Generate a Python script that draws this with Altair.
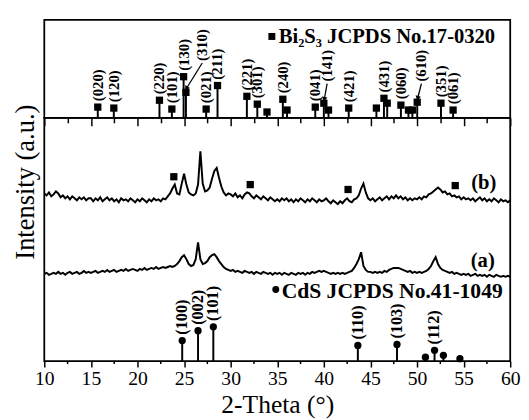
import math
import altair as alt
import pandas as pd

FONT = "Liberation Serif"

# ---------------- data ----------------
# 2-theta sampling grid for the measured patterns (10..60 deg, 0.25 deg step)
two_theta = [round(10 + 0.25 * i, 2) for i in range(201)]

# sample (b): Bi2S3/CdS
curve_b = (
    [171, 169, 172, 168, 170, 173, 171, 167, 169, 166, 168, 165, 168, 166, 164, 167, 165, 167, 164, 166]
    + [166, 163, 166, 164, 167, 163, 165, 167, 164, 166, 163, 165, 162, 166, 164, 165, 163, 166, 164, 162]
    + [165, 163, 166, 164, 162, 165, 163, 166, 164, 165, 163, 166, 165, 168, 171, 176, 180, 171, 170, 181]
    + [191, 180, 172, 170, 169, 171, 180, 214, 181, 173, 174, 177, 186, 194, 197, 187, 178, 172, 169, 171]
    + [170, 168, 171, 167, 169, 166, 170, 172, 171, 168, 166, 169, 167, 165, 168, 166, 164, 167, 165, 163]
    + [165, 163, 166, 164, 166, 163, 165, 162, 165, 163, 166, 164, 162, 165, 163, 166, 164, 162, 165, 163]
    + [164, 166, 163, 161, 164, 162, 160, 163, 161, 164, 166, 163, 162, 165, 166, 169, 176, 181, 172, 166]
    + [164, 166, 163, 165, 167, 164, 166, 168, 165, 168, 166, 169, 166, 168, 165, 167, 164, 166, 164, 166]
    + [165, 167, 165, 168, 167, 170, 171, 173, 175, 177, 175, 172, 173, 170, 171, 168, 169, 167, 168, 165]
    + [167, 165, 166, 164, 166, 163, 165, 167, 164, 166, 163, 165, 163, 166, 164, 162, 165, 163, 164, 162, 164]
)

# sample (a): CdS
curve_a = (
    [89, 90, 88, 89, 90, 89, 91, 89, 90, 88, 90, 91, 89, 90, 91, 89, 90, 92, 90, 91]
    + [90, 91, 92, 90, 91, 92, 91, 93, 91, 92, 93, 91, 92, 93, 92, 94, 92, 93, 94, 93]
    + [92, 94, 93, 95, 93, 94, 95, 94, 96, 94, 95, 96, 95, 96, 97, 96, 97, 99, 102, 106]
    + [108, 104, 99, 97, 98, 104, 121, 104, 99, 100, 102, 106, 108, 109, 106, 102, 99, 96, 94, 93]
    + [92, 93, 91, 92, 91, 90, 92, 91, 90, 91, 89, 91, 90, 89, 91, 90, 89, 90, 88, 90]
    + [89, 90, 88, 90, 89, 88, 90, 89, 88, 90, 89, 90, 88, 90, 89, 91, 90, 91, 92, 91]
    + [92, 91, 90, 89, 90, 89, 90, 89, 90, 89, 90, 91, 92, 95, 99, 104, 111, 97, 93, 91]
    + [91, 90, 91, 90, 91, 90, 92, 91, 93, 94, 95, 95, 95, 94, 93, 92, 91, 92, 90, 91]
    + [90, 91, 90, 91, 92, 94, 97, 102, 106, 99, 95, 93, 92, 91, 90, 91, 89, 90, 89, 88]
    + [89, 88, 89, 87, 88, 89, 87, 88, 87, 88, 86, 88, 87, 86, 88, 87, 86, 87, 86, 87, 86]
)

# Bi2S3 markers on pattern (b)
b_mark_pos = [23.9, 32.1, 42.6, 54.1]
b_mark_y = [188, 180, 175, 179]

# Bi2S3 JCPDS No.17-0320 reference lines
bi_pos = [15.74, 17.46, 22.36, 23.69, 24.95, 25.2, 27.37, 28.59, 31.74, 32.86, 33.9, 35.6, 36.05,
          39.08, 40.0, 40.5, 42.67, 45.64, 46.45, 46.8, 48.27, 49.08, 49.5, 50.02, 52.57, 53.87]
bi_h = [11, 10, 18, 9, 42, 26, 9, 33, 22, 14, 6, 19, 8,
        11, 15, 8, 10, 10, 20, 15, 13, 8, 8, 16, 15, 8]
bi_hkl = ["(020)", "(120)", "(220)", "(101)", "(130)", "(310)", "(021)", "(211)", "(221)", "(301)", "", "(240)", "",
          "(041)", "(141)", "", "(421)", "", "(431)", "", "(060)", "", "", "(610)", "(351)", "(061)"]

# CdS JCPDS No.41-1049 reference lines
cds_pos = [24.8, 26.5, 28.14, 43.65, 47.85, 50.9, 51.88, 52.83, 54.6]
cds_h = [21, 31, 35, 16, 17, 4, 11, 6, 2.5]
cds_hkl = ["(100)", "(002)", "(101)", "(110)", "(103)", "", "(112)", "", ""]

major_ticks = [10, 15, 20, 25, 30, 35, 40, 45, 50, 55, 60]
minor_ticks = [12.5, 17.5, 22.5, 27.5, 32.5, 37.5, 42.5, 47.5, 52.5, 57.5]

# ---------------- layout constants ----------------
W = 475
H_TOP = 100
H_BOT = 248
PX_PER_DEG = W / 50.0
LABEL_LIFT = 6
# labels placed beside their line with a leader arrow: (x shift in deg, lift above peak)
callouts = {"(310)": (1.75, 32), "(141)": (0.35, 22), "(610)": (0.45, 21)}

xscale = alt.Scale(domain=[10, 60], nice=False, zero=False)
top_y = alt.Scale(domain=[0, H_TOP], nice=False, zero=False)
bot_y = alt.Scale(domain=[0, H_BOT], nice=False, zero=False)

major_test = "datum.value % 5 === 0"

top_axis = alt.Axis(
    values=major_ticks + minor_ticks, labels=False, title=None, domain=False, grid=False,
    tickColor="black", tickWidth=1.5,
    tickSize={"condition": {"test": major_test, "value": 8}, "value": 5},
)
bot_axis = alt.Axis(
    values=major_ticks, labelFlush=False, labelOverlap=False, labelFont=FONT, labelFontSize=20,
    labelColor="black", labelPadding=2, format="d",
    domain=False, grid=False, tickColor="black", tickWidth=1.5, tickSize=6,
    title="2-Theta (°)", titleFont=FONT, titleFontSize=26, titleFontWeight="normal",
    titleColor="black", titlePadding=3,
)


def X(field, axis):
    return alt.X(f"{field}:Q", scale=xscale, axis=axis)


# ---------------- top panel: Bi2S3 reference ----------------
bi_rows = []
for p, h, k in zip(bi_pos, bi_h, bi_hkl):
    dx, lift = callouts.get(k, (0.0, LABEL_LIFT))
    bi_rows.append({"x": p, "h": h, "zero": 0, "hkl": k, "lx": p + dx, "ly": h + lift})
bi = pd.DataFrame(bi_rows)

arrows = []
for r in bi_rows:
    if r["hkl"] in callouts:
        x1, y1 = r["lx"], r["ly"] - 2
        x2, y2 = r["x"] + 0.05, r["h"] + 4
        dxp = (x2 - x1) * PX_PER_DEG
        dyp = -(y2 - y1) * (H_TOP / 100.0)
        ang = math.degrees(math.atan2(-dxp, dyp)) % 360
        arrows.append({"x": x1, "y": y1, "x2": x2, "y2": y2, "ang": ang})
arr = pd.DataFrame(arrows)

top_sticks = alt.Chart(bi).mark_rule(color="black", strokeWidth=2).encode(
    x=X("x", top_axis), y=alt.Y("zero:Q", scale=top_y, axis=None), y2="h:Q")
top_marks = alt.Chart(bi).mark_point(shape="square", filled=True, size=55, color="black", opacity=1).encode(
    x=X("x", top_axis), y=alt.Y("h:Q", scale=top_y, axis=None))
top_labels = alt.Chart(bi[bi.hkl != ""]).mark_text(
    angle=270, align="left", baseline="middle", font=FONT, fontSize=15, fontWeight="bold", color="black"
).encode(x=X("lx", top_axis), y=alt.Y("ly:Q", scale=top_y, axis=None), text="hkl:N")
top_arrow_lines = alt.Chart(arr).mark_rule(color="black", strokeWidth=1.3).encode(
    x=X("x", top_axis), y=alt.Y("y:Q", scale=top_y, axis=None), x2="x2:Q", y2="y2:Q")
top_arrow_heads = alt.Chart(arr).mark_point(shape="triangle-down", filled=True, size=30, color="black", opacity=1).encode(
    x=X("x2", top_axis), y=alt.Y("y2:Q", scale=top_y, axis=None), angle=alt.Angle("ang:Q", scale=None))
top_legend_mark = alt.Chart(bi.head(1)).mark_point(shape="square", filled=True, size=50, color="black", opacity=1).encode(
    x=alt.value(232), y=alt.value(17))
top_legend_text = alt.Chart(bi.head(1)).mark_text(
    align="left", baseline="middle", font=FONT, fontSize=21, fontWeight="bold", color="black"
).encode(x=alt.value(239), y=alt.value(18), text=alt.value("Bi₂S₃ JCPDS No.17-0320"))

top = alt.layer(top_sticks, top_marks, top_labels, top_arrow_lines, top_arrow_heads,
                top_legend_mark, top_legend_text).properties(width=W, height=H_TOP)

# ---------------- bottom panel: patterns + CdS reference ----------------
pat = pd.DataFrame({
    "x": two_theta * 2,
    "y": curve_b + curve_a,
    "s": ["b"] * len(two_theta) + ["a"] * len(two_theta),
})
bm = pd.DataFrame({"x": b_mark_pos, "y": b_mark_y})
cds = pd.DataFrame({"x": cds_pos, "h": cds_h, "zero": 0, "hkl": cds_hkl,
                    "ly": [h + LABEL_LIFT for h in cds_h]})
names = pd.DataFrame({"t": ["(b)", "(a)"], "px": [448, 447], "py": [66, 146]})
minor = pd.DataFrame({"x": minor_ticks})

ybot = alt.Y("y:Q", scale=bot_y, axis=alt.Axis(
    title="Intensity (a.u.)", labels=False, ticks=False, domain=False, grid=False,
    titleFont=FONT, titleFontSize=27, titleFontWeight="normal", titleColor="black",
    titlePadding=5, titleY=65))

lines = alt.Chart(pat).mark_line(color="black", strokeWidth=2).encode(
    x=X("x", bot_axis), y=ybot, detail="s:N")
b_marks = alt.Chart(bm).mark_point(shape="square", filled=True, size=55, color="black", opacity=1).encode(
    x=X("x", bot_axis), y=ybot)
minor_rules = alt.Chart(minor).mark_rule(color="black", strokeWidth=1.5).encode(
    x=X("x", bot_axis), y=alt.value(H_BOT), y2=alt.value(H_BOT + 3))
cds_sticks = alt.Chart(cds).mark_rule(color="black", strokeWidth=2).encode(
    x=X("x", bot_axis), y=alt.Y("zero:Q", scale=bot_y), y2="h:Q")
cds_marks = alt.Chart(cds).mark_point(shape="circle", filled=True, size=55, color="black", opacity=1).encode(
    x=X("x", bot_axis), y=alt.Y("h:Q", scale=bot_y))
cds_labels = alt.Chart(cds[cds.hkl != ""]).mark_text(
    angle=270, align="left", baseline="middle", font=FONT, fontSize=16.5, fontWeight="bold", color="black"
).encode(x=X("x", bot_axis), y=alt.Y("ly:Q", scale=bot_y), text="hkl:N")
cds_legend_mark = alt.Chart(cds.head(1)).mark_point(shape="circle", filled=True, size=50, color="black", opacity=1).encode(
    x=alt.value(236), y=alt.value(175))
cds_legend_text = alt.Chart(cds.head(1)).mark_text(
    align="left", baseline="middle", font=FONT, fontSize=22, fontWeight="bold", color="black"
).encode(x=alt.value(242), y=alt.value(177), text=alt.value("CdS JCPDS No.41-1049"))
name_text = alt.Chart(names).mark_text(
    align="center", baseline="middle", font=FONT, fontSize=21, fontWeight="bold", color="black"
).encode(x=alt.X("px:Q", scale=None), y=alt.Y("py:Q", scale=None), text="t:N")

bottom = alt.layer(lines, b_marks, minor_rules, cds_sticks, cds_marks, cds_labels,
                   cds_legend_mark, cds_legend_text, name_text).properties(width=W, height=H_BOT)

chart = alt.vconcat(top, bottom, spacing=0, bounds="flush").properties(
    padding={"left": 3, "top": 7, "right": 0, "bottom": 0}
).configure_view(stroke="black", strokeWidth=1.8)

chart.save("out.html", embed_options={"renderer": "svg", "actions": False})
